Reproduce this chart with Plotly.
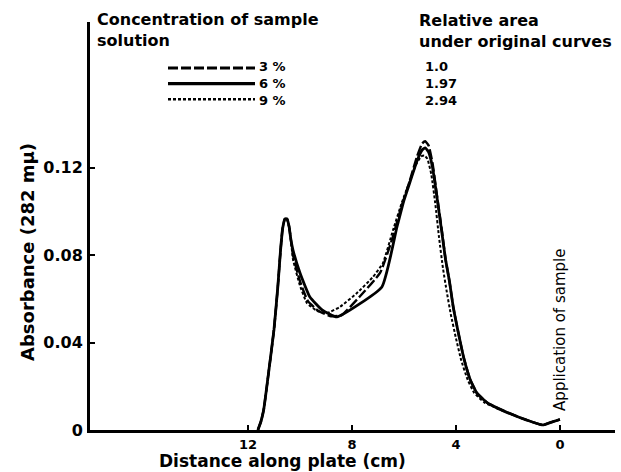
import plotly.graph_objects as go

# ---- data (distance along plate in cm, absorbance at 282 mμ) ----
x_3 = [11.62, 11.5, 11.4, 11.2, 11.0, 10.85, 10.75, 10.67, 10.58, 10.5, 10.42, 10.35,
       10.27, 10.0, 9.7, 9.3, 8.8, 8.4, 7.7, 6.92, 6.46, 6.1, 5.8, 5.5, 5.3, 5.18, 5.05,
       4.9, 4.75, 4.55, 4.4, 4.25, 4.1, 3.9, 3.7, 3.45, 3.2, 2.8, 2.4, 1.5, 0.65, 0.35, 0.0]
y_3 = [0.0, 0.004, 0.009, 0.027, 0.046, 0.066, 0.082, 0.092, 0.0965, 0.0965, 0.093, 0.087,
       0.080, 0.068, 0.059, 0.0545, 0.052, 0.0525, 0.061, 0.0718, 0.087, 0.102, 0.113, 0.125,
       0.131, 0.132, 0.130, 0.122, 0.109, 0.092, 0.078, 0.068, 0.056, 0.044, 0.033, 0.023,
       0.017, 0.0125, 0.010, 0.0055, 0.0023, 0.0035, 0.0048]

x_6 = [11.62, 11.5, 11.4, 11.2, 11.0, 10.85, 10.75, 10.67, 10.58, 10.5, 10.42, 10.35,
       10.27, 10.0, 9.62, 9.15, 8.58, 6.85, 6.27, 6.0, 5.75, 5.5, 5.3, 5.18, 5.05,
       4.9, 4.75, 4.55, 4.4, 4.25, 4.1, 3.9, 3.7, 3.45, 3.2, 2.8, 2.4, 1.5, 0.65, 0.35, 0.0]
y_6 = [0.0, 0.004, 0.009, 0.027, 0.046, 0.066, 0.082, 0.092, 0.0965, 0.0965, 0.093, 0.087,
       0.0823, 0.0718, 0.0608, 0.0549, 0.0517, 0.0654, 0.0928, 0.105, 0.114, 0.123, 0.128,
       0.129, 0.127, 0.120, 0.108, 0.091, 0.078, 0.068, 0.056, 0.044, 0.033, 0.023, 0.017,
       0.0125, 0.010, 0.0055, 0.0023, 0.0035, 0.0048]

x_9 = [11.62, 11.5, 11.4, 11.2, 11.0, 10.85, 10.75, 10.67, 10.58, 10.5, 10.42, 10.35,
       10.27, 10.0, 9.73, 9.35, 8.96, 8.46, 7.81, 7.19, 6.81, 6.42, 6.08, 5.8, 5.55, 5.35,
       5.22, 5.1, 4.95, 4.8, 4.65, 4.5, 4.35, 4.2, 4.0, 3.8, 3.55, 3.3, 2.9, 2.4, 1.5, 0.65,
       0.35, 0.0]
y_9 = [0.0, 0.004, 0.009, 0.027, 0.046, 0.066, 0.082, 0.092, 0.0965, 0.0965, 0.093, 0.087,
       0.078, 0.066, 0.058, 0.0545, 0.0535, 0.0563, 0.0626, 0.070, 0.0763, 0.0914, 0.104,
       0.113, 0.121, 0.125, 0.1255, 0.124, 0.117, 0.104, 0.088, 0.074, 0.063, 0.053, 0.042,
       0.032, 0.023, 0.017, 0.0125, 0.0098, 0.0055, 0.0023, 0.0035, 0.0048]

conc_labels = ["3 %", "6 %", "9 %"]
area_labels = ["1.0", "1.97", "2.94"]
x_ticks = [12, 8, 4, 0]
y_ticks = [0, 0.04, 0.08, 0.12]
y_tick_text = ["0", "0.04", "0.08", "0.12"]

FONT = "DejaVu Sans"
dashes = ["10px,3px", "solid", "3px,2px"]
widths = [2.4, 2.8, 2.0]

# plot area in pixels: x 90..615, y 22..430 ; 0.04 absorbance = 87.5 px
L, R, T, B = 90, 615, 22, 430
W, H = R - L, B - T
Y_TOP = 0.04 * H / 87.5


def px(x):
    return (x - L) / W


def py(y):
    return (B - y) / H


fig = go.Figure()
for xs, ys, d, w, name in zip([x_3, x_6, x_9], [y_3, y_6, y_9], dashes, widths, conc_labels):
    fig.add_trace(go.Scatter(x=xs, y=ys, mode="lines", name=name,
                             line=dict(color="black", width=w, dash=d,
                                       shape="spline", smoothing=0.4),
                             showlegend=False))

fig.update_layout(
    width=621, height=472,
    margin=dict(l=L, r=621 - R, t=T, b=472 - B),
    paper_bgcolor="white", plot_bgcolor="white",
    font=dict(family=FONT, color="black", size=14),
    xaxis=dict(range=[18.08, -2.12], showgrid=False, zeroline=False,
               showline=True, linecolor="black", linewidth=3,
               tickmode="array", tickvals=x_ticks, ticktext=[str(t) for t in x_ticks],
               ticks="inside", ticklen=5, tickwidth=2, tickcolor="black",
               ticklabelstandoff=0,
               tickfont=dict(family=FONT, size=13, weight="bold")),
    yaxis=dict(range=[0, Y_TOP], showgrid=False, zeroline=False,
               showline=True, linecolor="black", linewidth=3,
               tickmode="array", tickvals=y_ticks, ticktext=y_tick_text,
               ticks="inside", ticklen=5, tickwidth=2, tickcolor="black",
               ticklabelstandoff=1,
               tickfont=dict(family=FONT, size=16, weight="bold")),
)

# axis titles
fig.add_annotation(text="<b>Distance along plate (cm)</b>", xref="paper", yref="paper",
                   x=px(282), y=py(461), showarrow=False,
                   font=dict(size=17), xanchor="center", yanchor="middle")
fig.add_annotation(text="<b>Absorbance (282 mμ)</b>", xref="paper", yref="paper",
                   x=px(27), y=py(252), showarrow=False,
                   textangle=-90, font=dict(size=18), xanchor="center", yanchor="middle")
fig.add_annotation(text="Application of sample", x=0, xref="x", yref="paper",
                   y=py(330), showarrow=False, textangle=-90,
                   font=dict(size=15), xanchor="center", yanchor="middle")

# header texts
fig.add_annotation(text="<b>Concentration of sample<br>solution</b>", xref="paper",
                   yref="paper", x=px(95), y=py(30), showarrow=False, align="left",
                   xanchor="left", yanchor="middle", font=dict(size=16))
fig.add_annotation(text="<b>Relative area<br>under original curves</b>", xref="paper",
                   yref="paper", x=px(417), y=py(31), showarrow=False, align="left",
                   xanchor="left", yanchor="middle", font=dict(size=16))

# legend rows
LEG_SIZE = 12
row_step = 1.3 * LEG_SIZE
row_y = [68 + i * row_step for i in range(3)]
for i in range(3):
    yp = py(row_y[i])
    fig.add_shape(type="line", xref="paper", yref="paper",
                  x0=px(168), x1=px(255), y0=yp, y1=yp,
                  line=dict(color="black", width=widths[i] + 0.6, dash=dashes[i]))
fig.add_annotation(text="<b>" + "<br>".join(conc_labels) + "</b>", xref="paper",
                   yref="paper", x=px(257), y=py(row_y[1]), showarrow=False,
                   align="left", xanchor="left", yanchor="middle",
                   font=dict(size=LEG_SIZE + 1))
fig.add_annotation(text="<b>" + "<br>".join(area_labels) + "</b>", xref="paper",
                   yref="paper", x=px(423), y=py(row_y[1]), showarrow=False,
                   align="left", xanchor="left", yanchor="middle",
                   font=dict(size=LEG_SIZE + 1))

fig.write_html("out.html")
